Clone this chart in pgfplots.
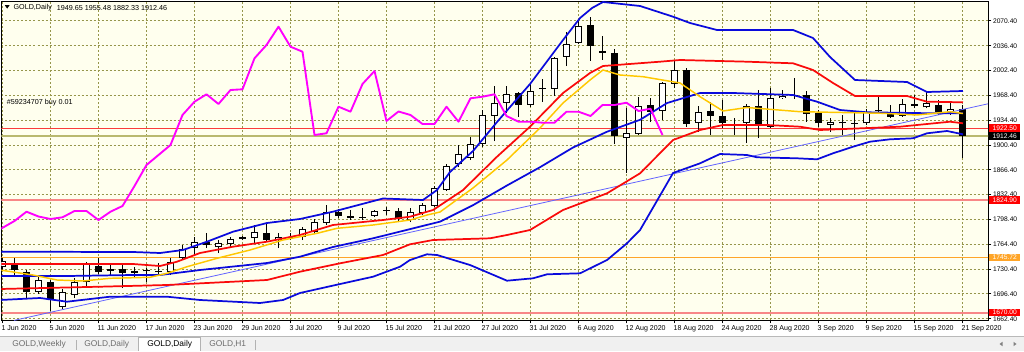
\documentclass[border=0pt]{standalone}
\usepackage{fontspec}
\setmainfont{Liberation Sans}
\usepackage{pgfplots}
\usepackage{pgfplotstable}
\pgfplotsset{compat=1.18}

\definecolor{bgc}{RGB}{255,255,238}
\definecolor{gridc}{RGB}{150,150,75}
\definecolor{bbblue}{RGB}{10,10,220}
\definecolor{bbred}{RGB}{250,10,10}
\definecolor{ylw}{RGB}{255,200,0}
\definecolor{mgt}{RGB}{255,0,255}
\definecolor{tlc}{RGB}{100,100,255}
\definecolor{olivel}{RGB}{185,185,110}
\definecolor{orl}{RGB}{255,165,40}
\definecolor{pinkl}{RGB}{248,135,135}
\definecolor{tabg}{RGB}{240,240,240}
\definecolor{tabtxt}{RGB}{110,110,110}

\newcommand\hdr{\fontsize{5.4pt}{6.4pt}\selectfont}
\newcommand\dts{\fontsize{5.3pt}{6.3pt}\selectfont}
\newcommand\tk{\fontsize{5pt}{6pt}\selectfont}
\newcommand\tabf{\fontsize{6.3pt}{7.3pt}\selectfont}

\pgfplotstableread{
x O H L C
0 1733.97 1745.62 1729.17 1741.51
1 1737.39 1745.62 1720.95 1728.49
2 1726.43 1729.17 1690.80 1699.02
3 1699.02 1720.95 1696.28 1715.47
4 1712.73 1715.47 1672.99 1688.06
5 1678.47 1703.13 1675.73 1699.02
6 1694.91 1718.21 1690.80 1712.73
7 1712.73 1740.14 1707.25 1738.76
8 1734.65 1745.62 1723.69 1726.43
9 1727.80 1738.76 1722.32 1730.54
10 1730.54 1736.02 1704.50 1725.06
11 1725.06 1733.28 1718.21 1727.80
12 1727.12 1731.91 1712.73 1727.80
13 1726.43 1738.76 1720.95 1727.12
14 1726.43 1745.62 1722.32 1740.14
15 1745.00 1763.43 1743.50 1757.95
16 1759.32 1774.40 1749.73 1767.54
17 1767.54 1779.88 1759.32 1763.43
18 1760.69 1770.28 1752.47 1766.17
19 1764.80 1774.40 1760.69 1771.65
20 1774.40 1775.77 1770.28 1771.65
21 1773.02 1790.84 1766.17 1781.25
22 1779.88 1793.58 1767.54 1770.28
23 1770.28 1779.88 1759.32 1774.40
24 1773.71 1779.88 1770.28 1775.08
25 1774.40 1788.10 1770.28 1785.36
26 1781.25 1799.06 1778.51 1794.95
27 1793.58 1818.25 1790.84 1808.66
28 1808.66 1812.77 1800.43 1803.17
29 1803.17 1811.40 1797.69 1799.75
30 1801.80 1814.14 1797.69 1800.43
31 1803.17 1811.40 1801.80 1810.03
32 1810.03 1815.51 1804.54 1810.71
33 1810.03 1814.14 1794.95 1799.06
34 1797.69 1814.14 1794.95 1808.66
35 1807.28 1820.99 1804.54 1818.25
36 1816.88 1844.29 1815.51 1841.54
37 1838.80 1874.43 1837.43 1871.69
38 1874.43 1900.47 1870.32 1888.14
39 1882.66 1911.44 1879.92 1901.84
40 1901.84 1948.44 1897.73 1941.58
41 1940.21 1981.33 1905.95 1958.03
42 1958.03 1981.33 1944.32 1970.36
43 1971.73 1973.10 1938.84 1955.29
44 1955.29 1984.07 1952.55 1974.47
45 1978.58 1990.92 1959.40 1977.21
46 1977.21 2021.07 1967.62 2019.70
47 2021.07 2055.33 2008.73 2038.88
48 2040.25 2071.77 2038.88 2063.55
49 2064.92 2076.29 2016.00 2035.46
50 2029.29 2049.85 2016.96 2027.23
51 2026.55 2032.03 1901.84 1912.12
52 1910.06 1951.18 1862.10 1916.92
53 1915.55 1966.25 1914.18 1953.92
54 1955.97 1964.88 1931.99 1945.70
55 1946.38 1987.22 1934.73 1984.75
56 1984.07 2016.96 1978.58 2003.25
57 2003.25 2006.40 1925.55 1929.25
58 1930.62 1954.33 1918.70 1945.70
59 1947.07 1959.81 1914.18 1940.62
60 1940.21 1962.14 1923.36 1930.62
61 1928.84 1937.47 1914.18 1927.19
62 1931.03 1956.66 1903.21 1954.33
63 1954.33 1975.84 1910.06 1929.25
64 1925.55 1978.58 1923.77 1964.88
65 1964.90 1975.84 1963.50 1968.30
66 1967.62 1992.29 1963.51 1966.94
67 1968.99 1974.47 1932.40 1942.95
68 1944.74 1948.44 1925.55 1930.21
69 1927.88 1937.47 1918.70 1932.40
70 1930.62 1941.58 1914.18 1929.94
71 1929.25 1944.32 1907.32 1931.03
72 1930.21 1949.81 1927.88 1945.28
73 1947.07 1966.66 1945.70 1947.75
74 1942.95 1955.29 1937.47 1939.25
75 1940.21 1963.51 1939.25 1956.25
76 1957.07 1968.99 1950.77 1953.92
77 1952.14 1973.51 1950.77 1958.44
78 1955.29 1962.14 1941.58 1945.28
79 1946.11 1959.81 1941.58 1949.81
80 1949.65 1955.48 1882.33 1912.46
}\candles

\begin{document}
\begin{tikzpicture}
\useasboundingbox (0,0) rectangle (768pt,263.25pt);
\fill[white] (0,0) rectangle (768pt,263.25pt);
\fill[tabg] (0,0) rectangle (768pt,10.5pt);
\draw[gray!55, line width=0.6pt] (0,10.9pt) -- (768pt,10.9pt);

\begin{axis}[
  at={(1.125pt,23.25pt)}, anchor=south west,
  scale only axis, width=739.875pt, height=238.875pt,
  xmin=-0.083, xmax=82.125, ymin=1660.65, ymax=2097.12,
  axis background/.style={fill=bgc},
  axis line style={black, line width=0.75pt},
  tick style={black, line width=0.75pt},
  tick align=outside, major tick length=2.6pt,
  xtick pos=bottom, ytick pos=right, yticklabel pos=right,
  xtick={0,4,...,80},
  xticklabels={1 Jun 2020,5 Jun 2020,11 Jun 2020,17 Jun 2020,23 Jun 2020,29 Jun 2020,3 Jul 2020,9 Jul 2020,15 Jul 2020,21 Jul 2020,27 Jul 2020,31 Jul 2020,6 Aug 2020,12 Aug 2020,18 Aug 2020,24 Aug 2020,28 Aug 2020,3 Sep 2020,9 Sep 2020,15 Sep 2020,21 Sep 2020},
  ytick={1662.4,1696.4,1730.4,1764.4,1798.4,1832.4,1866.4,1900.4,1934.4,1968.4,2002.4,2036.4,2070.4},
  yticklabel={\pgfmathprintnumber[fixed,fixed zerofill,precision=2,1000 sep={},assume math mode=true]{\tick}},
  xticklabel style={font=\dts, anchor=north west, inner sep=0pt, xshift=-0.9pt, yshift=-1pt},
  yticklabel style={font=\tk, anchor=west, inner sep=0pt, xshift=1pt},
  grid=major,
  major grid style={gridc, line width=0.75pt, dash pattern=on 1.5pt off 1.5pt},
]
% level lines
\addplot[bbred!80, line width=0.7pt] coordinates {(-1,1922.50) (83,1922.50)};
\addplot[olivel, line width=1.2pt] coordinates {(-1,1912.46) (83,1912.46)};
\addplot[pinkl, line width=1.6pt] coordinates {(-1,1824.90) (83,1824.90)};
\addplot[orl, line width=0.8pt] coordinates {(-1,1745.72) (83,1745.72)};
\addplot[pinkl, line width=1.6pt] coordinates {(-1,1670.00) (83,1670.00)};

% candles: wicks
\addplot[draw=none, mark=none, error bars/.cd, y dir=plus, y explicit, error mark=none,
  error bar style={draw=black, solid, line width=0.75pt}]
  table[x=x, y=L, y error plus expr=\thisrow{H}-\thisrow{L}] {\candles};
% bodies (outline / black fill)
\addplot[draw=none, mark=none, error bars/.cd, y dir=plus, y explicit, error mark=none,
  error bar style={draw=black, solid, line width=5.25pt}]
  table[x=x, y expr={min(\thisrow{O},\thisrow{C})}, y error plus expr={max(abs(\thisrow{C}-\thisrow{O}),1.37)}] {\candles};
% white interiors of rising candles
\addplot[draw=none, mark=none, restrict expr to domain={\thisrow{C}-\thisrow{O}}{2.8:1000},
  error bars/.cd, y dir=plus, y explicit, error mark=none,
  error bar style={draw=white, solid, line width=3.75pt}]
  table[x=x, y expr=\thisrow{O}+1.37, y error plus expr=\thisrow{C}-\thisrow{O}-2.74] {\candles};

% trend line
\addplot[tlc, line width=0.6pt] coordinates {(0.96,1660.1) (82.125,1956.93)};

% lower blue band
\addplot[bbblue, line width=1.3pt, line join=round] coordinates {
(-0.21,1688.06) (3.13,1690.80) (5.38,1685.73) (8.96,1692.58) (13.71,1692.58) (16.46,1688.06)
(21.46,1683.95) (23.38,1688.06) (24.79,1697.65) (28.13,1709.97) (30.88,1719.98) (33.13,1733.69)
(33.96,1742.88) (35.38,1750.69) (36.21,1749.73) (38.96,1736.02) (42.04,1714.51) (44.21,1717.80)
(45.38,1723.28) (48.13,1724.65) (50.38,1742.88) (52.04,1765.77) (53.13,1783.99) (55.88,1862.10)
(58.13,1875.39) (59.79,1888.14) (62.04,1886.77) (62.88,1883.61) (66.21,1882.24) (67.88,1880.87)
(69.21,1889.09) (70.88,1898.15) (72.29,1905.00) (73.96,1908.29) (75.88,1909.66) (77.04,1916.51)
(78.71,1919.66) (80.04,1915.14)};
% lower red band
\addplot[bbred, line width=1.3pt, line join=round] coordinates {
(-0.21,1703.13) (8.13,1706.28) (13.71,1708.62) (22.04,1715.47) (24.79,1726.84) (28.13,1738.35)
(31.71,1749.73) (33.96,1764.39) (35.88,1770.28) (40.63,1772.61) (42.04,1777.14) (43.96,1783.99)
(46.71,1811.40) (50.38,1834.29) (53.13,1861.68) (55.88,1907.32) (58.13,1921.03) (60.04,1927.88)
(63.71,1927.88) (66.46,1925.55) (68.13,1921.03) (74.79,1925.55) (78.96,1932.40) (80.04,1930.21)};
% middle blue
\addplot[bbblue, line width=1.3pt, line join=round] coordinates {
(-0.21,1720.95) (5.38,1720.95) (10.88,1722.32) (13.13,1722.32) (16.46,1729.17) (22.04,1738.76)
(24.79,1747.39) (27.54,1760.69) (30.88,1772.61) (36.46,1795.43) (39.21,1818.00) (42.04,1845.00)
(44.79,1870.00) (47.54,1897.00) (50.38,1918.70) (53.13,1935.00) (55.38,1958.00) (58.13,1971.73)
(60.88,1971.73) (65.88,1968.99) (67.88,1959.81) (69.79,1948.44) (72.04,1945.28) (77.54,1943.91)
(80.04,1943.91)};
% upper red band
\addplot[bbred, line width=1.3pt, line join=round] coordinates {
(-0.21,1737.39) (10.88,1737.39) (13.13,1734.65) (14.54,1740.54) (16.46,1752.47) (19.21,1761.11)
(22.04,1767.96) (24.79,1777.14) (27.54,1790.84) (31.71,1797.69) (33.96,1802.21) (35.88,1811.40)
(38.38,1838.80) (41.21,1884.43) (43.96,1925.55) (46.71,1971.73) (48.96,1999.14) (50.04,2008.73)
(54.79,2014.63) (56.46,2016.96) (62.04,2014.63) (65.88,2012.43) (67.54,2003.25) (69.21,1985.44)
(71.04,1967.62) (75.38,1967.62) (77.04,1959.81) (80.04,1958.99)};
% upper blue band
\addplot[bbblue, line width=1.3pt, line join=round] coordinates {
(-0.21,1754.25) (10.88,1753.84) (13.13,1752.47) (15.04,1756.58) (17.04,1767.96) (19.21,1781.66)
(22.04,1793.58) (24.79,1799.06) (27.54,1809.07) (31.71,1827.16) (35.04,1825.10) (36.21,1838.80)
(37.29,1863.49) (39.21,1892.25) (41.21,1931.99) (43.96,1984.07) (46.71,2044.36) (48.13,2074.51)
(49.13,2088.22) (50.04,2096.44) (53.13,2090.96) (55.88,2076.29) (57.29,2067.66) (59.54,2058.07)
(65.88,2058.07) (67.54,2047.11) (68.96,2021.07) (71.04,1989.55) (75.38,1986.80) (77.04,1973.10)
(80.04,1974.47)};
% yellow moving average
\addplot[ylw, line width=1.1pt, line join=round] coordinates {
(-0.21,1729.17) (2.54,1722.32) (4.54,1715.47) (6.71,1714.10) (8.96,1717.80) (12.29,1719.17)
(13.71,1724.65) (15.38,1733.69) (17.88,1745.20) (20.63,1756.58) (23.38,1770.28) (26.21,1779.46)
(27.88,1786.32) (30.88,1790.84) (33.96,1797.69) (35.38,1804.54) (36.46,1808.66) (39.21,1841.54)
(42.04,1879.92) (44.79,1923.77) (46.71,1958.03) (48.96,1989.55) (50.04,2003.25) (51.46,1996.40)
(53.38,1994.07) (56.46,1985.44) (58.13,1966.66) (60.04,1947.07) (62.04,1951.86) (66.46,1946.11)
(73.38,1943.91) (76.21,1941.58) (78.96,1946.11) (80.04,1943.64)};
% magenta line
\addplot[mgt, line width=1.4pt, line join=round] coordinates {
(-0.21,1784.96) (1,1796.34) (2,1809.07) (3,1802.49) (4,1799.06) (5,1801.39) (6,1810.03) (7,1810.03)
(8,1797.69) (9,1809.07) (10,1816.88) (11,1844.29) (12,1873.06) (13,1886.77) (14,1900.47) (15,1941.58)
(16,1959.81) (17,1969.95) (18,1956.66) (19,1975.84) (20,1976.80) (21,2019.29) (22,2037.51) (23,2062.59)
(24,2035.18) (25,2028.33) (26,1914.18) (27,1916.51) (28,1952.96) (29,1946.11) (30,1984.07) (31,2001.88)
(32,1933.36) (33,1946.38) (34,1941.58) (35,1929.25) (36,1929.25) (37,1952.96) (38,1932.40) (39,1964.47)
(40,1966.66) (41,1969.95) (42,1940.21) (43,1932.40) (44,1932.40) (45,1931.03) (46,1931.03) (47,1946.11)
(48,1946.11) (49,1940.21) (50,1955.29) (51,1955.29) (52,1958.44) (53,1947.07) (54,1950.22) (55,1914.18)};
\end{axis}

\begin{scope}[x=0.75pt, y=-0.75pt, yshift=263.25pt]
% header
\fill[black] (4.8,5.2) -- (9.6,5.2) -- (7.2,8.6) -- cycle;
\node[anchor=west, inner sep=0pt, font=\hdr] at (13.3,8) {GOLD,Daily};
\node[anchor=west, inner sep=0pt, font=\hdr] at (56.7,8) {1949.65 1955.48 1882.33 1912.46};
\node[anchor=west, inner sep=0pt, font=\hdr] at (6.7,103) {\#59234707 buy 0.01};
% price boxes
\node[fill=red, text=white, inner sep=0pt, minimum width=23.25pt, minimum height=5.8pt, anchor=west, font=\tk] at (989,128.2) {1922.50};
\node[fill=black, text=white, inner sep=0pt, minimum width=23.25pt, minimum height=5.8pt, anchor=west, font=\tk] at (989,136.2) {1912.46};
\node[fill=red, text=white, inner sep=0pt, minimum width=23.25pt, minimum height=5.8pt, anchor=west, font=\tk] at (989,199.8) {1824.90};
\node[fill=orl, text=white, inner sep=0pt, minimum width=23.25pt, minimum height=5.8pt, anchor=west, font=\tk] at (989,257.6) {1745.72};
\node[fill=red, text=white, inner sep=0pt, minimum width=23.25pt, minimum height=5.8pt, anchor=west, font=\tk] at (989,312.5) {1670.00};
% tabs
\fill[white] (138,337) rectangle (200,351);
\draw[gray!60, line width=0.6pt] (138,351) -- (138,337) -- (200,337) -- (200,351);
\draw[gray!60, line width=0.6pt] (76,340) -- (76,350);
\draw[gray!60, line width=0.6pt] (255,340) -- (255,350);
\node[anchor=west, inner sep=0pt, font=\tabf, text=tabtxt] at (12,344.5) {GOLD,Weekly};
\node[anchor=west, inner sep=0pt, font=\tabf, text=tabtxt] at (84,344.5) {GOLD,Daily};
\node[anchor=west, inner sep=0pt, font=\tabf, text=black] at (147,344.5) {GOLD,Daily};
\node[anchor=west, inner sep=0pt, font=\tabf, text=tabtxt] at (209,344.5) {GOLD,H1};
% scroll arrows
\fill[gray] (999.5,344) -- (1002.5,341.8) -- (1002.5,346.2) -- cycle;
\fill[gray] (1016.5,344) -- (1013.5,341.8) -- (1013.5,346.2) -- cycle;
\end{scope}
\end{tikzpicture}
\end{document}
